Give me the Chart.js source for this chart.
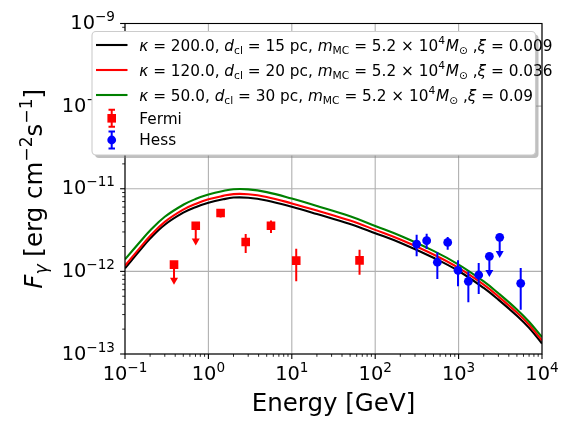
<!DOCTYPE html>
<html><head><meta charset="utf-8">
<script src="https://cdn.jsdelivr.net/npm/chart.js@4/dist/chart.umd.min.js"></script>
<style>html,body{margin:0;padding:0;background:#fff;}#wrap{width:576px;height:432px;}</style>
</head><body><div id="wrap"><canvas id="c" width="576" height="432"></canvas></div>
<script>
// ---- data ----
const energyGrid = [0.1,0.15,0.2,0.3,0.5,0.7,1,1.5,2,3,5,10,20,50,100,200,500,1000,2000,3000,5000,7000,10000];
const fluxKappa200 = [1.09e-12,1.78e-12,2.49e-12,3.67e-12,5.13e-12,5.97e-12,6.75e-12,7.45e-12,7.82e-12,7.78e-12,7.2e-12,6.05e-12,4.95e-12,3.75e-12,2.9e-12,2.22e-12,1.46e-12,1.01e-12,6.3e-13,4.55e-13,2.9e-13,2.07e-13,1.34e-13];
const fluxKappa120 = [1.17e-12,1.91e-12,2.68e-12,3.98e-12,5.6e-12,6.55e-12,7.45e-12,8.2e-12,8.62e-12,8.58e-12,7.95e-12,6.65e-12,5.45e-12,4.12e-12,3.18e-12,2.43e-12,1.6e-12,1.1e-12,6.9e-13,4.97e-13,3.17e-13,2.26e-13,1.46e-13];
const fluxKappa50 = [1.40e-12,2.25e-12,3.12e-12,4.58e-12,6.4e-12,7.5e-12,8.5e-12,9.4e-12,9.87e-12,9.83e-12,9.1e-12,7.6e-12,6.2e-12,4.65e-12,3.55e-12,2.7e-12,1.77e-12,1.21e-12,7.55e-13,5.43e-13,3.46e-13,2.46e-13,1.6e-13];

const fermiE  = [0.387,0.705,1.40,2.80,5.63,11.3,64.9];
const fermiF  = [1.205e-12,3.57e-12,5.08e-12,2.27e-12,3.57e-12,1.35e-12,1.36e-12];
const fermiLo = [6.9e-13,2.05e-12,4.5e-12,1.67e-12,2.91e-12,7.57e-13,9.12e-13];
const fermiHi = [1.205e-12,3.57e-12,5.7e-12,2.83e-12,4.14e-12,1.88e-12,1.83e-12];
const fermiUL = [true,true,false,false,false,false,false];

const hessE  = [314,414,556,740,984,1309,1742,2338,3110,5556];
const hessF  = [2.14e-12,2.35e-12,1.29e-12,2.24e-12,1.03e-12,7.57e-13,9.04e-13,1.52e-12,2.58e-12,7.16e-13];
const hessLo = [1.52e-12,1.87e-12,8.09e-13,1.83e-12,6.59e-13,4.22e-13,5.33e-13,8.55e-13,1.45e-12,3.44e-13];
const hessHi = [2.78e-12,2.86e-12,1.70e-12,2.61e-12,1.36e-12,1.0e-12,1.26e-12,1.52e-12,2.58e-12,1.10e-12];
const hessUL = [false,false,false,false,false,false,false,true,true,false];

const xTickExps = [-1,0,1,2,3,4];
const yTickExps = [-13,-12,-11,-10,-9];
const xTitle = 'Energy [GeV]';
const legendLabels = [
  'κ = 200.0, d_cl = 15 pc, m_MC = 5.2 × 10^4 M_⊙ , ξ = 0.009',
  'κ = 120.0, d_cl = 20 pc, m_MC = 5.2 × 10^4 M_⊙ , ξ = 0.036',
  'κ = 50.0, d_cl = 30 pc, m_MC = 5.2 × 10^4 M_⊙ , ξ = 0.09',
  'Fermi','Hess'];
const legendParams = [['200.0','15','0.009'],['120.0','20','0.036'],['50.0','30','0.09']];

// ---- helpers ----
const FAM = '"DejaVu Sans", sans-serif';
const MINUS = '\u2212';
function pts(xs, ys){ return xs.map((x,i)=>({x:x,y:ys[i]})); }

function drawRich(ctx, segs, x, y, size, measureOnly){
  let cx = x;
  for (const s of segs){
    const fs = s.pos ? size*0.7 : size;
    ctx.font = (s.it ? 'italic ' : '') + fs.toFixed(2) + 'px ' + FAM;
    const dy = s.pos==='sup' ? -size*0.42 : (s.pos==='sub' ? size*0.2 : 0);
    if (!measureOnly) ctx.fillText(s.t, cx, y+dy);
    cx += ctx.measureText(s.t).width + (s.gap||0)*size;
  }
  return cx - x;
}
function legendSegs(p){
  return [
    {t:'κ',it:1},{t:' = '+p[0]+', '},{t:'d',it:1},{t:'cl',pos:'sub'},{t:' = '+p[1]+' pc, '},
    {t:'m',it:1},{t:'MC',pos:'sub'},{t:' = 5.2 × 10'},{t:'4',pos:'sup',gap:0.05},{t:'M',it:1},{t:'⊙',pos:'sub'},
    {t:' ,'},{t:'ξ',it:1},{t:' = '+p[2]}
  ];
}
function drawPow(ctx, e, x, y, align, size){
  const sup = (e<0?MINUS:'')+Math.abs(e);
  ctx.font = size+'px '+FAM; const w1 = ctx.measureText('10').width;
  ctx.font = (size*0.7)+'px '+FAM; const w2 = ctx.measureText(sup).width;
  const w = w1+w2;
  const sx = align==='center' ? x - w/2 : x - w;
  ctx.font = size+'px '+FAM; ctx.fillText('10', sx, y);
  ctx.font = (size*0.7)+'px '+FAM; ctx.fillText(sup, sx+w1, y - size*0.41);
}

const axesPlugin = {
  id:'mplAxes',
  beforeDatasetsDraw(chart){
    const ctx = chart.ctx, a = chart.chartArea, xs = chart.scales.x, ys = chart.scales.y;
    ctx.save();
    ctx.strokeStyle = '#b0b0b0'; ctx.lineWidth = 1.1;
    for (const e of xTickExps){ const px = xs.getPixelForValue(Math.pow(10,e));
      ctx.beginPath(); ctx.moveTo(px,a.top); ctx.lineTo(px,a.bottom); ctx.stroke(); }
    for (const e of yTickExps){ const py = ys.getPixelForValue(Math.pow(10,e));
      ctx.beginPath(); ctx.moveTo(a.left,py); ctx.lineTo(a.right,py); ctx.stroke(); }
    ctx.restore();
  },
  beforeDatasetDraw(chart, args){
    const ds = chart.data.datasets[args.index];
    if (!ds.errLo) return;
    const ctx = chart.ctx, a = chart.chartArea, xs = chart.scales.x, ys = chart.scales.y;
    ctx.save();
    ctx.beginPath(); ctx.rect(a.left,a.top,a.right-a.left,a.bottom-a.top); ctx.clip();
    ctx.strokeStyle = ds.backgroundColor; ctx.fillStyle = ds.backgroundColor; ctx.lineWidth = 2;
    ds.data.forEach((p,i)=>{
      const px = xs.getPixelForValue(p.x);
      const lo = ys.getPixelForValue(ds.errLo[i]);
      const hi = ys.getPixelForValue(ds.ul[i] ? p.y : ds.errHi[i]);
      ctx.beginPath(); ctx.moveTo(px,hi); ctx.lineTo(px, ds.ul[i] ? lo-5 : lo); ctx.stroke();
      if (ds.ul[i]){
        ctx.beginPath(); ctx.moveTo(px-4,lo-7); ctx.lineTo(px+4,lo-7); ctx.lineTo(px,lo); ctx.closePath(); ctx.fill();
      }
    });
    ctx.restore();
  },
  afterDatasetsDraw(chart){
    const ctx = chart.ctx, a = chart.chartArea, xs = chart.scales.x, ys = chart.scales.y;
    ctx.save();
    ctx.strokeStyle = '#000'; ctx.lineWidth = 1.1;
    ctx.strokeRect(a.left, a.top, a.right-a.left, a.bottom-a.top);
    for (let e=-1;e<=4;e++){
      const px = xs.getPixelForValue(Math.pow(10,e));
      ctx.lineWidth=1.1; ctx.beginPath(); ctx.moveTo(px,a.bottom); ctx.lineTo(px,a.bottom+4.9); ctx.stroke();
      if (e<4) for (let k=2;k<=9;k++){ const q = xs.getPixelForValue(k*Math.pow(10,e));
        ctx.lineWidth=0.85; ctx.beginPath(); ctx.moveTo(q,a.bottom); ctx.lineTo(q,a.bottom+2.8); ctx.stroke(); }
    }
    for (let e=-13;e<=-9;e++){
      const py = ys.getPixelForValue(Math.pow(10,e));
      ctx.lineWidth=1.1; ctx.beginPath(); ctx.moveTo(a.left,py); ctx.lineTo(a.left-4.9,py); ctx.stroke();
      if (e<-9) for (let k=2;k<=9;k++){ const q = ys.getPixelForValue(k*Math.pow(10,e));
        ctx.lineWidth=0.85; ctx.beginPath(); ctx.moveTo(a.left,q); ctx.lineTo(a.left-2.8,q); ctx.stroke(); }
    }
    ctx.fillStyle = '#000'; ctx.textBaseline = 'alphabetic'; ctx.textAlign = 'left';
    for (const e of xTickExps) drawPow(ctx, e, xs.getPixelForValue(Math.pow(10,e)), a.bottom+25.6, 'center', 19.4);
    for (const e of yTickExps) drawPow(ctx, e, a.left-10, ys.getPixelForValue(Math.pow(10,e))+5.6, 'right', 19.4);
    ctx.font = '24.5px '+FAM;
    const tw = ctx.measureText(xTitle).width;
    ctx.fillText(xTitle, (a.left+a.right)/2 - tw/2, 411);
    const ySegs = [{t:'F',it:1},{t:'γ',it:1,pos:'sub'},{t:' [erg cm'},{t:MINUS+'2',pos:'sup'},{t:'s'},{t:MINUS+'1',pos:'sup'},{t:']'}];
    const wy = drawRich(ctx, ySegs, 0, 0, 24.5, true);
    ctx.translate(42, (a.top+a.bottom)/2); ctx.rotate(-Math.PI/2);
    drawRich(ctx, ySegs, -wy/2, 0, 24.5);
    ctx.restore();
  },
  afterDraw(chart){
    const ctx = chart.ctx;
    const bx=92, by=31.5, bw=443.5, bh=123.5, r=4;
    function rr(x,y,w,h){ ctx.beginPath(); ctx.moveTo(x+r,y); ctx.arcTo(x+w,y,x+w,y+h,r); ctx.arcTo(x+w,y+h,x,y+h,r); ctx.arcTo(x,y+h,x,y,r); ctx.arcTo(x,y,x+w,y,r); ctx.closePath(); }
    ctx.save();
    ctx.fillStyle='rgba(128,128,128,0.5)'; rr(bx+3,by+3,bw,bh); ctx.fill();
    ctx.fillStyle='#ffffff'; rr(bx,by,bw,bh); ctx.fill();
    ctx.strokeStyle='#cccccc'; ctx.lineWidth=1.1; rr(bx,by,bw,bh); ctx.stroke();
    const lineCols = ['#000000','#ff0000','#008000'];
    const rows = [45,70,95];
    ctx.fillStyle='#000';
    for (let i=0;i<3;i++){
      ctx.strokeStyle=lineCols[i]; ctx.lineWidth=2.1;
      ctx.beginPath(); ctx.moveTo(96,rows[i]); ctx.lineTo(127.5,rows[i]); ctx.stroke();
      ctx.fillStyle='#000';
      drawRich(ctx, legendSegs(legendParams[i]), 139.3, rows[i]+5.7, 15.3);
    }
    const mk = [[118.3,'#ff0000','rect',legendLabels[3]],[140,'#0000ff','circle',legendLabels[4]]];
    for (const m of mk){
      const cy=m[0];
      ctx.strokeStyle=m[1]; ctx.fillStyle=m[1]; ctx.lineWidth=2;
      ctx.beginPath(); ctx.moveTo(111.7,cy-8.5); ctx.lineTo(111.7,cy+8.5); ctx.stroke();
      ctx.beginPath(); ctx.moveTo(108.5,cy-8.5); ctx.lineTo(115,cy-8.5); ctx.moveTo(108.5,cy+8.5); ctx.lineTo(115,cy+8.5); ctx.stroke();
      if (m[2]==='rect'){ ctx.fillRect(107.4,cy-4.3,8.6,8.6); }
      else { ctx.beginPath(); ctx.arc(111.7,cy,4.4,0,Math.PI*2); ctx.fill(); }
      ctx.fillStyle='#000'; ctx.font='15.3px '+FAM; ctx.fillText(m[3],139.3,cy+5.2);
    }
    ctx.restore();
  }
};

const ctx = document.getElementById('c').getContext('2d');
new Chart(ctx, {
  data: {
    datasets: [
      {type:'scatter', label:legendLabels[4], data:pts(hessE,hessF), errLo:hessLo, errHi:hessHi, ul:hessUL,
       backgroundColor:'#0000ff', borderColor:'#0000ff', pointStyle:'circle', pointRadius:4.4, borderWidth:0},
      {type:'scatter', label:legendLabels[3], data:pts(fermiE,fermiF), errLo:fermiLo, errHi:fermiHi, ul:fermiUL,
       backgroundColor:'#ff0000', borderColor:'#ff0000', pointStyle:'rect', pointRadius:6.1, borderWidth:0},
      {type:'line', label:legendLabels[2], data:pts(energyGrid,fluxKappa50), borderColor:'#008000', borderWidth:2.1, pointRadius:0, tension:0.4, fill:false},
      {type:'line', label:legendLabels[1], data:pts(energyGrid,fluxKappa120), borderColor:'#ff0000', borderWidth:2.1, pointRadius:0, tension:0.4, fill:false},
      {type:'line', label:legendLabels[0], data:pts(energyGrid,fluxKappa200), borderColor:'#000000', borderWidth:2.1, pointRadius:0, tension:0.4, fill:false}
    ]
  },
  options: {
    responsive:false, animation:false, devicePixelRatio:1,
    layout:{padding:{left:0,right:34,top:23.5,bottom:0}},
    plugins:{legend:{display:false}, tooltip:{enabled:false}},
    scales:{
      x:{type:'logarithmic', min:0.1, max:1e4, ticks:{display:false}, grid:{display:false}, border:{display:false},
         afterFit(s){ s.height = 78; }},
      y:{type:'logarithmic', min:1e-13, max:1e-9, ticks:{display:false}, grid:{display:false}, border:{display:false},
         afterFit(s){ s.width = 125; }}
    }
  },
  plugins:[axesPlugin]
});
</script></body></html>
